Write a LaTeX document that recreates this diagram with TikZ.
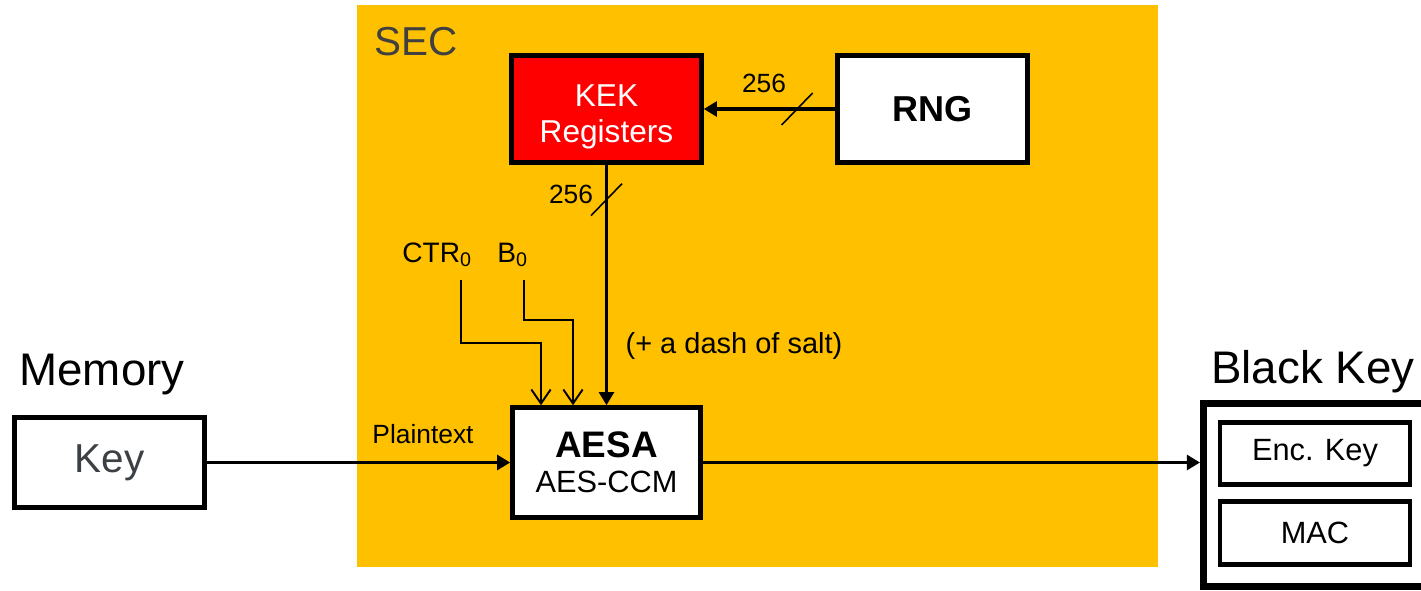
\documentclass[tikz,border=0pt]{standalone}
\usepackage{fontspec}
\setmainfont{Liberation Sans}
\usetikzlibrary{
  positioning, arrows.meta, calc
}
\usepackage{xcolor}
\definecolor{secgold}{HTML}{FFC000}
\definecolor{kekred}{HTML}{FF0000}
\definecolor{dgray}{HTML}{404040}
\definecolor{keygray}{HTML}{3B4045}

\begin{document}
\begin{tikzpicture}[
        every node/.style={font=\fontsize{17.5}{21}\selectfont},
        box/.style={draw, line width=2.6pt, minimum width=3.8cm, minimum height=2.14cm,
                    align=center, inner sep=2pt},
        big/.style={font=\fontsize{26}{30}\selectfont},
        lbl/.style={font=\fontsize{15}{18}\selectfont, inner sep=0pt},
        arr/.style={line width=1.8pt, -{Triangle[length=7.5pt, width=8.5pt]}},
        inarr/.style={line width=1.1pt, -{Straight Barb[length=8pt, width=11pt, line width=1.1pt]}},
        slash/.style={line width=0.9pt},
      ]
      \useasboundingbox (0,0) rectangle (28.42,-11.8);
      \clip (0,0) rectangle (28.42,-11.8);
      \fill[secgold] (7.14,-0.1) rectangle (23.16,-11.34);
      \node[font=\fontsize{23}{27}\selectfont, text=dgray] (sec) at (8.32,-0.84) {SEC};
      \node[box, fill=kekred, text=white, font=\fontsize{18}{20.5}\selectfont] (kek) at (12.13,-2.18)
        {\rule{0pt}{21pt}KEK\\Registers};
      \node[box, fill=white, font=\fontsize{20.5}{24}\selectfont\bfseries] (rng) at (18.65,-2.18) {RNG};
      \node[box, fill=white, minimum width=3.76cm, minimum height=2.2cm] (aesa) at (12.13,-9.25)
        {{\fontsize{21}{24}\selectfont\bfseries AESA}\\[-1pt]AES-CCM};
      \node[box, fill=white, minimum height=1.8cm, text=keygray, font=\fontsize{23}{27}\selectfont]
        (key) at (2.19,-9.25) {Key};
      \node[big] (memory) at (2.04,-7.5) {Memory};
      \node[box, fill=white, line width=4pt, minimum width=5cm, minimum height=3.66cm] (blackkey)
        at (26.57,-9.9) {};
      \node[big, anchor=west, inner sep=0pt] (blackkeylbl) at (24.22,-7.44) {Black Key};
      \node[box, fill=white, minimum height=1.24cm] (enckey) at (26.3,-9.07) {Enc. Key};
      \node[box, fill=white, minimum height=1.26cm] (mac) at (26.3,-10.66) {MAC};
      \node[lbl] (bitsa) at (15.28,-1.66) {256};
      \node[lbl] (bitsb) at (11.42,-3.88) {256};
      \node[lbl, font=\fontsize{16}{19}\selectfont, anchor=base west] (ctr) at (8.04,-5.24)
        {CTR\textsubscript{0}};
      \node[lbl, font=\fontsize{16}{19}\selectfont, anchor=base west] (bzero) at (9.94,-5.24)
        {B\textsubscript{0}};
      \node[font=\fontsize{16.5}{20}\selectfont] (salt) at (14.68,-6.92) {(+ a dash of salt)};
      \node[lbl] (plain) at (8.46,-8.68) {Plaintext};
      \draw[arr] (rng) -- coordinate[pos=0.29] (cuta) (kek);
      \draw[slash] ($(cuta)+(-0.31,-0.32)$) -- ($(cuta)+(0.31,0.32)$);
      \draw[arr] (kek) -- coordinate[pos=0.145] (cutb) (aesa);
      \draw[slash] ($(cutb)+(-0.31,-0.32)$) -- ($(cutb)+(0.31,0.32)$);
      \draw[inarr] ([shift={(1.18,-0.36)}]ctr.base west) -- ++(0,-1.26) -| ([xshift=-1.31cm]aesa.north);
      \draw[inarr] ([shift={(0.54,-0.36)}]bzero.base west) -- ++(0,-0.8) -| ([xshift=-0.67cm]aesa.north);
      \draw[arr] (key) -- (aesa);
      \draw[arr] (aesa) -- (aesa -| blackkey.west);
    \end{tikzpicture}
\end{document}
